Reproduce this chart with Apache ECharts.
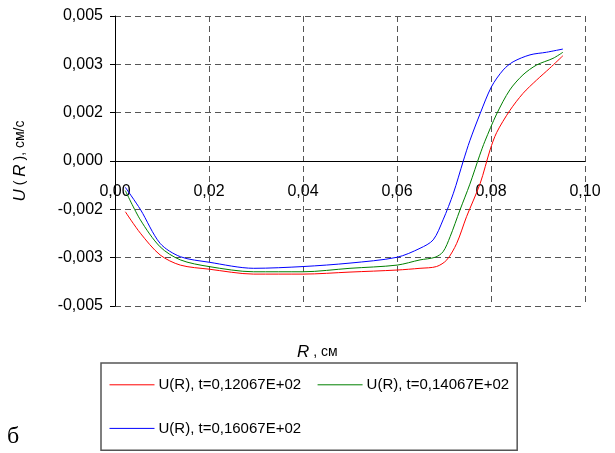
<!DOCTYPE html>
<html>
<head>
<meta charset="utf-8">
<script src="https://cdn.jsdelivr.net/npm/echarts@6/dist/echarts.min.js"></script>
<style>
  html, body { margin: 0; padding: 0; background: #fff; }
  #chart { width: 615px; height: 453px; }
</style>
</head>
<body>
<div id="chart"></div>
<script>
// R, см
const seriesNames = ["U(R), t=0,12067E+02", "U(R), t=0,14067E+02", "U(R), t=0,16067E+02"];

const redR = [0.0022, 0.0054, 0.0096, 0.0139, 0.020, 0.0295, 0.040, 0.050, 0.060, 0.0649, 0.0684, 0.0706, 0.0727, 0.0748, 0.0777, 0.0798, 0.0812, 0.084, 0.0868, 0.0897, 0.0925, 0.0953];
const redU = [-0.00175, -0.00249, -0.00324, -0.00359, -0.00373, -0.0039, -0.0039, -0.00383, -0.00376, -0.0037, -0.00364, -0.00341, -0.00284, -0.00192, -0.00077, 0.00038, 0.00098, 0.00174, 0.00233, 0.00279, 0.0032, 0.00363];

const greenR = [0.0022, 0.0054, 0.0096, 0.0139, 0.020, 0.0295, 0.040, 0.050, 0.060, 0.0649, 0.0681, 0.0698, 0.0713, 0.0734, 0.0755, 0.0776, 0.0787, 0.0812, 0.084, 0.0868, 0.0897, 0.0932, 0.0953];
const greenU = [-0.00102, -0.00203, -0.00296, -0.00341, -0.00364, -0.00382, -0.00382, -0.0037, -0.00359, -0.00341, -0.00332, -0.00313, -0.00261, -0.00169, -0.0008, 0.0002, 0.00068, 0.00162, 0.00245, 0.00297, 0.00331, 0.00354, 0.00375];

const blueR = [0.0022, 0.0054, 0.0096, 0.0139, 0.020, 0.0295, 0.040, 0.050, 0.060, 0.0649, 0.0677, 0.0698, 0.072, 0.0741, 0.0755, 0.0777, 0.0801, 0.0826, 0.0847, 0.0883, 0.0918, 0.0953];
const blueU = [-0.00091, -0.00167, -0.00284, -0.0033, -0.00349, -0.0037, -0.00364, -0.00352, -0.00332, -0.00301, -0.00272, -0.00203, -0.00111, 0.0, 0.0007, 0.00164, 0.00256, 0.00314, 0.00342, 0.00366, 0.00375, 0.00386];

const xTicks = { min: 0, max: 0.1, step: 0.02 };
const yTicks = { min: -0.005, max: 0.005, step: 0.01 / 6 };

const zip = (xs, ys) => xs.map((x, i) => [x, ys[i]]);

const chart = echarts.init(document.getElementById("chart"), null, { renderer: "canvas" });

const gridLine = { show: true, lineStyle: { color: "#555", type: [6, 4], width: 1 } };
const font = "Liberation Sans";

function makeSeries(name, color, data) {
    return {
        name: name,
        type: "line",
        data: data,
        symbol: "none",
        smooth: 0.3,
        lineStyle: { color: color, width: 1 },
        itemStyle: { color: color }
    };
}

chart.setOption({
    backgroundColor: "#fff",
    animation: false,
    textStyle: { fontFamily: font, color: "#000" },
    grid: { left: 115, right: 30, top: 16, bottom: 147 },
    xAxis: {
        type: "value",
        min: xTicks.min,
        max: xTicks.max,
        interval: xTicks.step,
        axisLine: { show: true, onZero: true, lineStyle: { color: "#000", width: 1 } },
        axisTick: { show: false },
        axisLabel: {
            margin: -122,
            fontSize: 16,
            color: "#000",
            fontFamily: font,
            formatter: v => v.toFixed(2).replace(".", ",")
        },
        splitLine: gridLine
    },
    yAxis: {
        type: "value",
        min: yTicks.min,
        max: yTicks.max,
        interval: yTicks.step,
        axisLine: { show: true, onZero: false, lineStyle: { color: "#000", width: 1 } },
        axisTick: { show: true, length: 5, lineStyle: { color: "#000" } },
        axisLabel: {
            margin: 12,
            fontSize: 16,
            color: "#000",
            fontFamily: font,
            formatter: v => v.toFixed(3).replace(".", ",")
        },
        splitLine: gridLine,
        name: "{i|U} ( {i|R} ), см/с",
        nameLocation: "middle",
        nameGap: 86,
        nameRotate: 90,
        nameTextStyle: {
            fontFamily: font,
            fontSize: 14,
            color: "#000",
            rich: {
                i: { fontStyle: "italic", fontSize: 17, fontFamily: font, color: "#000" }
            }
        }
    },
    legend: {
        left: 101,
        top: 363,
        width: 410,
        orient: "horizontal",
        itemWidth: 45,
        itemHeight: 34.5,
        itemGap: 16,
        padding: [8, 8, 8, 8],
        borderColor: "#555",
        borderWidth: 1.5,
        itemStyle: { opacity: 0 },
        lineStyle: { width: 1 },
        textStyle: { fontFamily: font, fontSize: 15, color: "#000", padding: [0, 0, 0, -1] },
        data: seriesNames
    },
    graphic: [
        {
            type: "text",
            left: 297,
            top: 344,
            style: {
                text: "{i|R} , см",
                fontFamily: font,
                fontSize: 14,
                fill: "#000",
                rich: { i: { fontStyle: "italic", fontSize: 17, fontFamily: font } }
            }
        },
        {
            type: "text",
            left: 7,
            top: 425,
            style: {
                text: "б",
                fontFamily: "Liberation Serif",
                fontSize: 24,
                fill: "#000"
            }
        }
    ],
    series: [
        makeSeries(seriesNames[0], "#ff0000", zip(redR, redU)),
        makeSeries(seriesNames[1], "#008000", zip(greenR, greenU)),
        makeSeries(seriesNames[2], "#0000ff", zip(blueR, blueU))
    ]
});
</script>
</body>
</html>
